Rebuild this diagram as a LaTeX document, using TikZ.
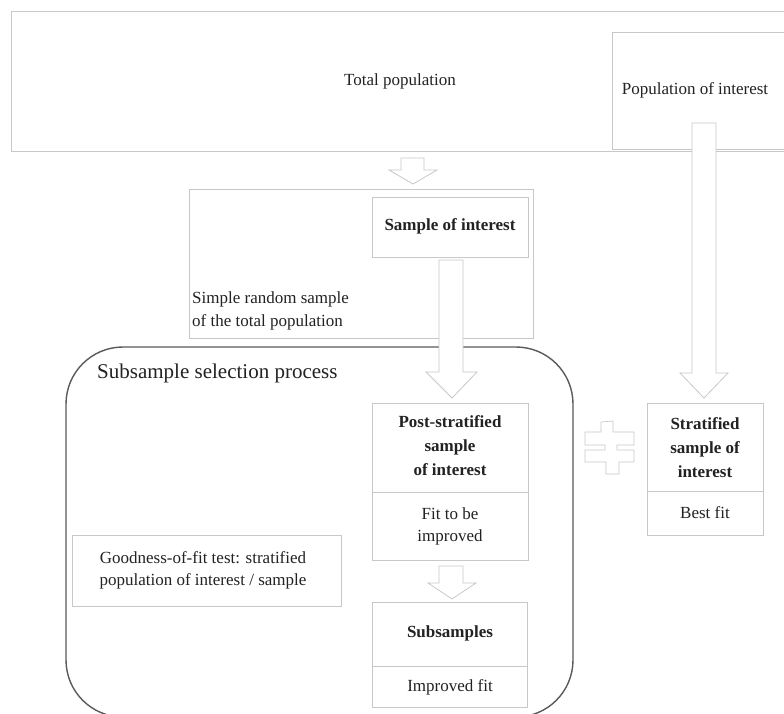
\documentclass[tikz,border=0pt]{standalone}
\usepackage{fontspec}
\setmainfont{Liberation Serif}
\definecolor{boxline}{HTML}{C8C8C8}
\definecolor{txt}{HTML}{222222}
\definecolor{frame}{HTML}{5A5A5A}
\tikzset{
  box/.style={draw=boxline, line width=0.9pt, fill=white, inner sep=0pt, anchor=north west},
  blockarrow/.style={draw=boxline, line width=0.8pt, fill=white, line join=miter},
  lbl/.style={text=txt, inner sep=0pt, align=center, font=\fontsize{17}{23}\selectfont},
  blbl/.style={text=txt, inner sep=0pt, align=center, font=\fontsize{17}{24}\selectfont\bfseries},
}
\begin{document}
\begin{tikzpicture}[x=1pt,y=-1pt]
\useasboundingbox (0,0) rectangle (784,713);
\fill[white] (0,0) rectangle (784,713);

% top boxes
\node[box, minimum width=800pt, minimum height=140pt] (totalbox) at (11,11) {};
\node[box, minimum width=200pt, minimum height=117pt] (popbox) at (612,32) {};
\node[lbl] (total) at (400,81) {Total population};
\node[lbl] (pop) at (695,90) {Population of interest};

% sample box
\node[box, minimum width=344pt, minimum height=149pt] (samplebox) at (189,189) {};
\node[box, minimum width=156pt, minimum height=60pt] (soibox) at (372,197) {};
\node[blbl] (soi) at (450,226) {Sample of interest};
\node[lbl, align=left, anchor=west] (srs) at (192,311) {Simple random sample\\of the total population};

% subsample selection frame
\draw[frame, line width=1.4pt, rounded corners=57pt] (66,347) rectangle (573,717);
\node[text=txt, inner sep=0pt, anchor=west, font=\fontsize{21}{25}\selectfont] (ssp) at (97,373) {Subsample selection process};

% post-stratified
\node[box, minimum width=156pt, minimum height=89pt] (postbox) at (372,403) {};
\node[box, minimum width=156pt, minimum height=68pt] (fitbox) at (372,492) {};
\node[blbl] (post) at (450,446) {Post-stratified\\sample\\of interest};
\node[lbl, font=\fontsize{17}{22}\selectfont] (fit) at (450,526) {Fit to be\\improved};

% subsamples
\node[box, minimum width=155pt, minimum height=64pt] (subbox) at (372,602) {};
\node[box, minimum width=155pt, minimum height=41pt] (impbox) at (372,666) {};
\node[blbl] (sub) at (450,633) {Subsamples};
\node[lbl] (imp) at (450,687) {Improved fit};

% goodness of fit
\node[box, minimum width=269pt, minimum height=71pt] (gofbox) at (72,535) {};
\node[lbl, font=\fontsize{17}{22}\selectfont] (gof) at (203,570) {Goodness-of-fit test: stratified\\population of interest / sample};

% stratified sample
\node[box, minimum width=116pt, minimum height=88pt] (stratbox) at (647,403) {};
\node[box, minimum width=116pt, minimum height=44pt] (bestbox) at (647,491) {};
\node[blbl] (strat) at (705,448) {Stratified\\sample of\\interest};
\node[lbl] (best) at (705,513) {Best fit};

% block arrows
\draw[blockarrow] (401,158) -- (424,158) -- (424,170) -- (437,170) -- (413,184) -- (389,170) -- (401,170) -- cycle;
\draw[blockarrow] (439,260) -- (463,260) -- (463,372) -- (477,372) -- (452,398) -- (426,372) -- (439,372) -- cycle;
\draw[blockarrow] (439,566) -- (463,566) -- (463,583) -- (476,583) -- (452,599) -- (428,583) -- (439,583) -- cycle;
\draw[blockarrow] (692,123) -- (716,123) -- (716,373) -- (728,373) -- (704,398) -- (680,373) -- (692,373) -- cycle;

% not-equal sign
\draw[blockarrow, line width=0.7pt] (601,422) -- (613,421) -- (613,432) -- (634,432) -- (634,445) -- (617,445) -- (617,450) -- (634,450) -- (634,462) -- (619,462) -- (619,474) -- (606,474) -- (606,462) -- (585,462) -- (585,450) -- (605,450) -- (605,445) -- (585,445) -- (585,432) -- (601,432) -- cycle;
\end{tikzpicture}
\end{document}
